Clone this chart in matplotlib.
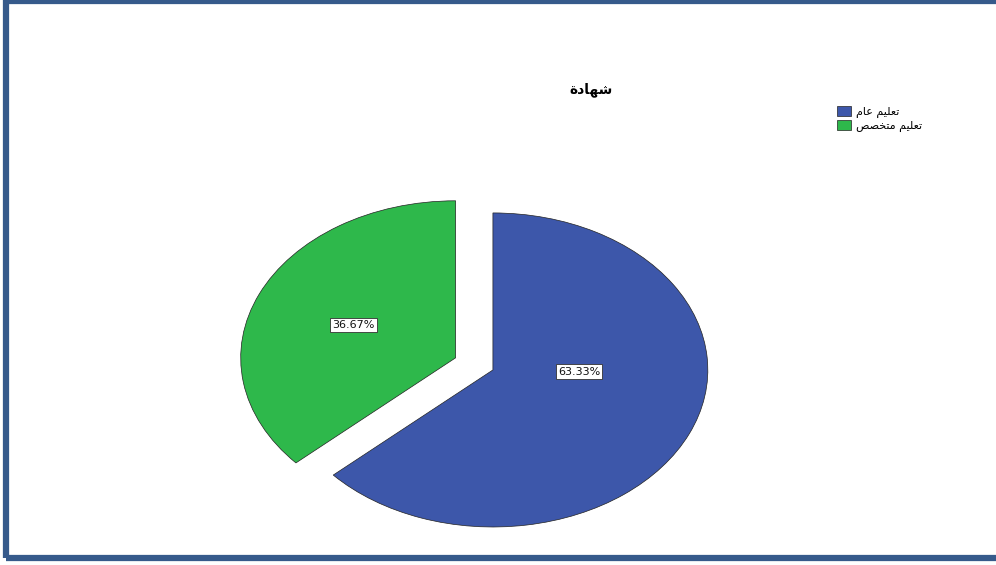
import matplotlib
matplotlib.use("Agg")
import matplotlib.pyplot as plt
from matplotlib.patches import Rectangle

# Arabic text is written in shaped presentation forms, visual order (matplotlib has no bidi)
title = "ﺓﺩﺎﻬﺷ"  # شهادة
categories = ["ﻡﺎﻋ ﻢﻴﻠﻌﺗ", "ﺺﺼﺨﺘﻣ ﻢﻴﻠﻌﺗ"]  # تعليم عام / تعليم متخصص
shares = [63.33, 36.67]
colors = ["#3d57aa", "#2eb84b"]
explode = [0.0, 0.19]

plt.rcParams["font.family"] = ["DejaVu Sans"]

fig = plt.figure(figsize=(9.96, 5.65), dpi=100)
ax = fig.add_axes([0.2144, 0.0395, 0.561, 0.667])

wedges, texts, autotexts = ax.pie(
    shares,
    colors=colors,
    explode=explode,
    startangle=90,
    counterclock=False,
    autopct=lambda p: "%.2f%%" % p,
    pctdistance=0.52,
    wedgeprops=dict(edgecolor="#222222", linewidth=0.5),
    textprops=dict(fontsize=8, color="#111111"),
)
ax.set_aspect("auto")
ax.set_xlim(-1.3, 1.3)
ax.set_ylim(-1.1, 1.3)
ax.axis("off")

# SPSS puts the big slice label near the centre line
autotexts[0].set_position((0.4, -0.01))
for t in autotexts:
    t.set_bbox(dict(facecolor="white", edgecolor="#333333", linewidth=0.6, pad=1.5))

fig.text(0.593, 0.842, title, ha="center", va="center", fontsize=10, fontweight="bold")

# legend in the upper right corner
fig.legend(
    wedges,
    categories,
    loc="upper left",
    bbox_to_anchor=(0.835, 0.822),
    frameon=False,
    fontsize=8,
    handlelength=1.2,
    handleheight=1.0,
    handletextpad=0.5,
    labelspacing=0.2,
    borderpad=0.0,
)

# dark blue frame, right edge runs off the picture
fig.add_artist(Rectangle((0.006, 0.012), 1.1, 0.986, transform=fig.transFigure,
                         fill=False, edgecolor="#365a8b", linewidth=4.5))

fig.savefig("out.png", dpi=100)
